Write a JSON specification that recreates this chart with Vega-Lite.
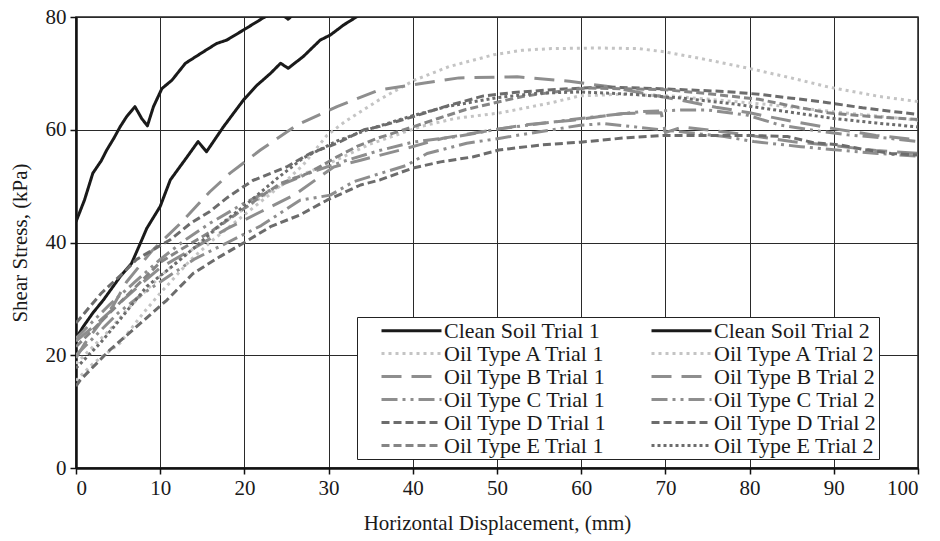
{
  "$schema": "https://vega.github.io/schema/vega-lite/v6.json",
  "width": 842,
  "height": 451,
  "autosize": "none",
  "padding": {"left": 76, "top": 17, "right": 22, "bottom": 73},
  "background": "white",
  "config": {
    "font": "Liberation Serif",
    "view": {"stroke": "#222", "strokeWidth": 1.5},
    "style": {"guide-label": {"font": "Liberation Serif", "fontSize": 21, "fill": "#1a1a1a"}, "guide-title": {"font": "Liberation Serif", "fontSize": 21, "fontWeight": "normal", "fill": "#1a1a1a"}},
    "axis": {
      "grid": true, "gridColor": "#2a2a2a", "gridWidth": 1, "gridOpacity": 1,
      "domainColor": "#111", "domainWidth": 2.5, "tickColor": "#111", "tickSize": 6, "tickWidth": 1.5
    }
  },
  "data": {"values": [
    {"s":"Clean Soil Trial 1","x":0,"y":43.7},{"s":"Clean Soil Trial 1","x":1,"y":47.5},{"s":"Clean Soil Trial 1","x":2,"y":52.3},{"s":"Clean Soil Trial 1","x":3,"y":54.5},{"s":"Clean Soil Trial 1","x":3.65,"y":56.4},{"s":"Clean Soil Trial 1","x":4.5,"y":58.5},{"s":"Clean Soil Trial 1","x":5.23,"y":60.5},{"s":"Clean Soil Trial 1","x":6,"y":62.3},{"s":"Clean Soil Trial 1","x":7,"y":64.1},{"s":"Clean Soil Trial 1","x":7.8,"y":62},{"s":"Clean Soil Trial 1","x":8.48,"y":60.7},{"s":"Clean Soil Trial 1","x":9.2,"y":64.1},{"s":"Clean Soil Trial 1","x":10.2,"y":67.3},{"s":"Clean Soil Trial 1","x":11.4,"y":68.8},{"s":"Clean Soil Trial 1","x":13,"y":71.8},{"s":"Clean Soil Trial 1","x":15.1,"y":73.8},{"s":"Clean Soil Trial 1","x":16.7,"y":75.3},{"s":"Clean Soil Trial 1","x":17.9,"y":75.9},{"s":"Clean Soil Trial 1","x":19.9,"y":77.7},{"s":"Clean Soil Trial 1","x":22.3,"y":79.9},{"s":"Clean Soil Trial 1","x":24,"y":81},{"s":"Clean Soil Trial 1","x":25.2,"y":79.6},{"s":"Clean Soil Trial 1","x":26.5,"y":81.5},{"s":"Clean Soil Trial 1","x":30,"y":85},
    {"s":"Clean Soil Trial 2","x":0,"y":23},{"s":"Clean Soil Trial 2","x":0.87,"y":25.1},{"s":"Clean Soil Trial 2","x":2,"y":27.5},{"s":"Clean Soil Trial 2","x":3.25,"y":29.8},{"s":"Clean Soil Trial 2","x":5.23,"y":33.9},{"s":"Clean Soil Trial 2","x":6.6,"y":36.3},{"s":"Clean Soil Trial 2","x":7.8,"y":40.4},{"s":"Clean Soil Trial 2","x":8.4,"y":42.5},{"s":"Clean Soil Trial 2","x":10,"y":46.4},{"s":"Clean Soil Trial 2","x":11.2,"y":51.1},{"s":"Clean Soil Trial 2","x":13.2,"y":55.2},{"s":"Clean Soil Trial 2","x":14.5,"y":57.9},{"s":"Clean Soil Trial 2","x":15.5,"y":56.1},{"s":"Clean Soil Trial 2","x":17.5,"y":60.5},{"s":"Clean Soil Trial 2","x":19.9,"y":65.3},{"s":"Clean Soil Trial 2","x":21.5,"y":67.9},{"s":"Clean Soil Trial 2","x":23.1,"y":70},{"s":"Clean Soil Trial 2","x":24.3,"y":71.8},{"s":"Clean Soil Trial 2","x":25.2,"y":70.9},{"s":"Clean Soil Trial 2","x":27,"y":73},{"s":"Clean Soil Trial 2","x":29,"y":75.9},{"s":"Clean Soil Trial 2","x":30.2,"y":76.8},{"s":"Clean Soil Trial 2","x":31.8,"y":78.6},{"s":"Clean Soil Trial 2","x":33.4,"y":80.1},{"s":"Clean Soil Trial 2","x":36,"y":83},
    {"s":"Oil Type A Trial 1","x":0,"y":15.5},{"s":"Oil Type A Trial 1","x":2,"y":18.5},{"s":"Oil Type A Trial 1","x":5.2,"y":22.1},{"s":"Oil Type A Trial 1","x":8,"y":27.5},{"s":"Oil Type A Trial 1","x":10,"y":31},{"s":"Oil Type A Trial 1","x":13.6,"y":36.9},{"s":"Oil Type A Trial 1","x":16.3,"y":40.5},{"s":"Oil Type A Trial 1","x":19.9,"y":44.8},{"s":"Oil Type A Trial 1","x":23,"y":48.5},{"s":"Oil Type A Trial 1","x":25,"y":51},{"s":"Oil Type A Trial 1","x":27,"y":53.8},{"s":"Oil Type A Trial 1","x":29.8,"y":59},{"s":"Oil Type A Trial 1","x":32,"y":61.5},{"s":"Oil Type A Trial 1","x":34.1,"y":63.5},{"s":"Oil Type A Trial 1","x":36.1,"y":65.4},{"s":"Oil Type A Trial 1","x":40.2,"y":68.8},{"s":"Oil Type A Trial 1","x":44.3,"y":71.2},{"s":"Oil Type A Trial 1","x":49.6,"y":73.3},{"s":"Oil Type A Trial 1","x":53,"y":74.1},{"s":"Oil Type A Trial 1","x":56.5,"y":74.4},{"s":"Oil Type A Trial 1","x":62,"y":74.5},{"s":"Oil Type A Trial 1","x":66.8,"y":74.4},{"s":"Oil Type A Trial 1","x":70,"y":73.8},{"s":"Oil Type A Trial 1","x":75,"y":72.4},{"s":"Oil Type A Trial 1","x":79.9,"y":70.9},{"s":"Oil Type A Trial 1","x":85.2,"y":69.1},{"s":"Oil Type A Trial 1","x":89.3,"y":67.6},{"s":"Oil Type A Trial 1","x":95.4,"y":65.9},{"s":"Oil Type A Trial 1","x":100,"y":65},
    {"s":"Oil Type A Trial 2","x":0,"y":18.5},{"s":"Oil Type A Trial 2","x":2,"y":21.5},{"s":"Oil Type A Trial 2","x":4,"y":24.5},{"s":"Oil Type A Trial 2","x":6,"y":28},{"s":"Oil Type A Trial 2","x":8,"y":31},{"s":"Oil Type A Trial 2","x":10,"y":34},{"s":"Oil Type A Trial 2","x":12,"y":36.5},{"s":"Oil Type A Trial 2","x":14,"y":39},{"s":"Oil Type A Trial 2","x":16,"y":41.5},{"s":"Oil Type A Trial 2","x":18,"y":44},{"s":"Oil Type A Trial 2","x":20,"y":46},{"s":"Oil Type A Trial 2","x":23,"y":49},{"s":"Oil Type A Trial 2","x":26,"y":51.5},{"s":"Oil Type A Trial 2","x":30,"y":54},{"s":"Oil Type A Trial 2","x":35,"y":57.5},{"s":"Oil Type A Trial 2","x":41,"y":60.6},{"s":"Oil Type A Trial 2","x":45,"y":62},{"s":"Oil Type A Trial 2","x":50.4,"y":63},{"s":"Oil Type A Trial 2","x":56.5,"y":64.8},{"s":"Oil Type A Trial 2","x":59.8,"y":66},{"s":"Oil Type A Trial 2","x":64.7,"y":66.3},{"s":"Oil Type A Trial 2","x":70.5,"y":66},{"s":"Oil Type A Trial 2","x":76,"y":65.3},{"s":"Oil Type A Trial 2","x":82,"y":64.5},{"s":"Oil Type A Trial 2","x":90,"y":63.2},{"s":"Oil Type A Trial 2","x":100,"y":61.7},
    {"s":"Oil Type B Trial 1","x":0,"y":19.5},{"s":"Oil Type B Trial 1","x":1,"y":22},{"s":"Oil Type B Trial 1","x":2.5,"y":25},{"s":"Oil Type B Trial 1","x":4.5,"y":29},{"s":"Oil Type B Trial 1","x":6,"y":33},{"s":"Oil Type B Trial 1","x":9,"y":38.5},{"s":"Oil Type B Trial 1","x":12.4,"y":43.4},{"s":"Oil Type B Trial 1","x":15.9,"y":49},{"s":"Oil Type B Trial 1","x":18.3,"y":52.3},{"s":"Oil Type B Trial 1","x":21.9,"y":56.4},{"s":"Oil Type B Trial 1","x":26.2,"y":60.8},{"s":"Oil Type B Trial 1","x":31,"y":64.1},{"s":"Oil Type B Trial 1","x":33,"y":65.3},{"s":"Oil Type B Trial 1","x":36.1,"y":67.1},{"s":"Oil Type B Trial 1","x":41.4,"y":68.3},{"s":"Oil Type B Trial 1","x":45.5,"y":69.2},{"s":"Oil Type B Trial 1","x":52.4,"y":69.4},{"s":"Oil Type B Trial 1","x":58.6,"y":68.6},{"s":"Oil Type B Trial 1","x":63,"y":67.7},{"s":"Oil Type B Trial 1","x":68,"y":66.3},{"s":"Oil Type B Trial 1","x":72,"y":65.2},{"s":"Oil Type B Trial 1","x":76,"y":64},{"s":"Oil Type B Trial 1","x":80,"y":63},{"s":"Oil Type B Trial 1","x":85,"y":61.5},{"s":"Oil Type B Trial 1","x":90,"y":60.2},{"s":"Oil Type B Trial 1","x":95,"y":59},{"s":"Oil Type B Trial 1","x":100,"y":58.2},
    {"s":"Oil Type B Trial 2","x":0,"y":22.5},{"s":"Oil Type B Trial 2","x":2,"y":25},{"s":"Oil Type B Trial 2","x":5,"y":29},{"s":"Oil Type B Trial 2","x":8,"y":33},{"s":"Oil Type B Trial 2","x":10,"y":35.5},{"s":"Oil Type B Trial 2","x":14,"y":39},{"s":"Oil Type B Trial 2","x":18,"y":42.5},{"s":"Oil Type B Trial 2","x":22,"y":45.5},{"s":"Oil Type B Trial 2","x":26,"y":48.5},{"s":"Oil Type B Trial 2","x":30.6,"y":53.4},{"s":"Oil Type B Trial 2","x":33.8,"y":54.6},{"s":"Oil Type B Trial 2","x":38.5,"y":56.4},{"s":"Oil Type B Trial 2","x":43.6,"y":58.5},{"s":"Oil Type B Trial 2","x":48.4,"y":59.7},{"s":"Oil Type B Trial 2","x":53,"y":60.8},{"s":"Oil Type B Trial 2","x":59,"y":61.7},{"s":"Oil Type B Trial 2","x":65,"y":62.9},{"s":"Oil Type B Trial 2","x":69.5,"y":63},{"s":"Oil Type B Trial 2","x":70,"y":59.5},{"s":"Oil Type B Trial 2","x":72,"y":60.5},{"s":"Oil Type B Trial 2","x":76,"y":59.8},{"s":"Oil Type B Trial 2","x":80,"y":59},{"s":"Oil Type B Trial 2","x":85,"y":57.9},{"s":"Oil Type B Trial 2","x":90,"y":57.2},{"s":"Oil Type B Trial 2","x":95,"y":56.3},{"s":"Oil Type B Trial 2","x":100,"y":55.8},
    {"s":"Oil Type C Trial 1","x":0,"y":23},{"s":"Oil Type C Trial 1","x":2,"y":26},{"s":"Oil Type C Trial 1","x":4,"y":29},{"s":"Oil Type C Trial 1","x":7,"y":33},{"s":"Oil Type C Trial 1","x":10,"y":37},{"s":"Oil Type C Trial 1","x":13,"y":40.5},{"s":"Oil Type C Trial 1","x":16,"y":43.5},{"s":"Oil Type C Trial 1","x":20,"y":47},{"s":"Oil Type C Trial 1","x":24,"y":50},{"s":"Oil Type C Trial 1","x":28,"y":52.5},{"s":"Oil Type C Trial 1","x":32,"y":54.5},{"s":"Oil Type C Trial 1","x":36,"y":56.3},{"s":"Oil Type C Trial 1","x":40,"y":57.8},{"s":"Oil Type C Trial 1","x":45.3,"y":58.8},{"s":"Oil Type C Trial 1","x":50.4,"y":60.2},{"s":"Oil Type C Trial 1","x":55.2,"y":61.1},{"s":"Oil Type C Trial 1","x":59.9,"y":62},{"s":"Oil Type C Trial 1","x":63.5,"y":62.6},{"s":"Oil Type C Trial 1","x":67,"y":63.2},{"s":"Oil Type C Trial 1","x":72,"y":63.5},{"s":"Oil Type C Trial 1","x":75,"y":63.5},{"s":"Oil Type C Trial 1","x":79.7,"y":62.6},{"s":"Oil Type C Trial 1","x":83.7,"y":60.8},{"s":"Oil Type C Trial 1","x":88.5,"y":59.7},{"s":"Oil Type C Trial 1","x":91.6,"y":59.1},{"s":"Oil Type C Trial 1","x":96.4,"y":58.5},{"s":"Oil Type C Trial 1","x":100,"y":57.9},
    {"s":"Oil Type C Trial 2","x":0,"y":20},{"s":"Oil Type C Trial 2","x":2,"y":23},{"s":"Oil Type C Trial 2","x":5,"y":27.5},{"s":"Oil Type C Trial 2","x":8,"y":31},{"s":"Oil Type C Trial 2","x":10,"y":33},{"s":"Oil Type C Trial 2","x":14,"y":37},{"s":"Oil Type C Trial 2","x":18,"y":40},{"s":"Oil Type C Trial 2","x":22,"y":43},{"s":"Oil Type C Trial 2","x":26.6,"y":47.5},{"s":"Oil Type C Trial 2","x":30.2,"y":48.4},{"s":"Oil Type C Trial 2","x":33,"y":50.8},{"s":"Oil Type C Trial 2","x":39.3,"y":53.7},{"s":"Oil Type C Trial 2","x":41.7,"y":55.8},{"s":"Oil Type C Trial 2","x":46.4,"y":57.6},{"s":"Oil Type C Trial 2","x":50.4,"y":58.5},{"s":"Oil Type C Trial 2","x":54,"y":59.4},{"s":"Oil Type C Trial 2","x":59.9,"y":60.8},{"s":"Oil Type C Trial 2","x":62.7,"y":61.1},{"s":"Oil Type C Trial 2","x":68.3,"y":60.2},{"s":"Oil Type C Trial 2","x":71.4,"y":59.7},{"s":"Oil Type C Trial 2","x":77,"y":58.8},{"s":"Oil Type C Trial 2","x":80.5,"y":57.9},{"s":"Oil Type C Trial 2","x":86.1,"y":57},{"s":"Oil Type C Trial 2","x":89.7,"y":56.5},{"s":"Oil Type C Trial 2","x":95.2,"y":55.8},{"s":"Oil Type C Trial 2","x":100,"y":55.3},
    {"s":"Oil Type D Trial 1","x":0,"y":25.7},{"s":"Oil Type D Trial 1","x":3,"y":31},{"s":"Oil Type D Trial 1","x":5.6,"y":34.6},{"s":"Oil Type D Trial 1","x":7.2,"y":37},{"s":"Oil Type D Trial 1","x":11.2,"y":40.5},{"s":"Oil Type D Trial 1","x":13.6,"y":43.4},{"s":"Oil Type D Trial 1","x":15.9,"y":45.5},{"s":"Oil Type D Trial 1","x":18,"y":48},{"s":"Oil Type D Trial 1","x":21,"y":51},{"s":"Oil Type D Trial 1","x":25,"y":53.4},{"s":"Oil Type D Trial 1","x":27.8,"y":55.8},{"s":"Oil Type D Trial 1","x":31,"y":57.6},{"s":"Oil Type D Trial 1","x":34.2,"y":60},{"s":"Oil Type D Trial 1","x":36.1,"y":60.6},{"s":"Oil Type D Trial 1","x":40.2,"y":62.4},{"s":"Oil Type D Trial 1","x":44,"y":64.2},{"s":"Oil Type D Trial 1","x":48.4,"y":66},{"s":"Oil Type D Trial 1","x":52,"y":66.6},{"s":"Oil Type D Trial 1","x":56.5,"y":67.1},{"s":"Oil Type D Trial 1","x":62.7,"y":67.6},{"s":"Oil Type D Trial 1","x":68.8,"y":67.3},{"s":"Oil Type D Trial 1","x":77,"y":66.8},{"s":"Oil Type D Trial 1","x":81.1,"y":66.3},{"s":"Oil Type D Trial 1","x":85,"y":65.6},{"s":"Oil Type D Trial 1","x":89.3,"y":64.8},{"s":"Oil Type D Trial 1","x":93.4,"y":63.9},{"s":"Oil Type D Trial 1","x":100,"y":62.7},
    {"s":"Oil Type D Trial 2","x":0,"y":14.5},{"s":"Oil Type D Trial 2","x":0.5,"y":15.6},{"s":"Oil Type D Trial 2","x":4,"y":20.9},{"s":"Oil Type D Trial 2","x":7.6,"y":25.6},{"s":"Oil Type D Trial 2","x":10.8,"y":29.8},{"s":"Oil Type D Trial 2","x":13.9,"y":34.5},{"s":"Oil Type D Trial 2","x":17.1,"y":37.5},{"s":"Oil Type D Trial 2","x":20.1,"y":40.1},{"s":"Oil Type D Trial 2","x":23.1,"y":42.8},{"s":"Oil Type D Trial 2","x":26.6,"y":44.9},{"s":"Oil Type D Trial 2","x":29.8,"y":47.5},{"s":"Oil Type D Trial 2","x":33.8,"y":50.2},{"s":"Oil Type D Trial 2","x":36.1,"y":51.1},{"s":"Oil Type D Trial 2","x":40,"y":53.2},{"s":"Oil Type D Trial 2","x":43.3,"y":54.3},{"s":"Oil Type D Trial 2","x":47.2,"y":55.2},{"s":"Oil Type D Trial 2","x":50.2,"y":56.4},{"s":"Oil Type D Trial 2","x":55.2,"y":57.3},{"s":"Oil Type D Trial 2","x":59.9,"y":57.8},{"s":"Oil Type D Trial 2","x":65.5,"y":58.6},{"s":"Oil Type D Trial 2","x":70,"y":59},{"s":"Oil Type D Trial 2","x":75,"y":59},{"s":"Oil Type D Trial 2","x":79.7,"y":59},{"s":"Oil Type D Trial 2","x":84.5,"y":58.8},{"s":"Oil Type D Trial 2","x":87.6,"y":57.7},{"s":"Oil Type D Trial 2","x":90.8,"y":57.3},{"s":"Oil Type D Trial 2","x":93.6,"y":56.5},{"s":"Oil Type D Trial 2","x":96.8,"y":55.8},{"s":"Oil Type D Trial 2","x":100,"y":55.5},
    {"s":"Oil Type E Trial 1","x":0,"y":21.5},{"s":"Oil Type E Trial 1","x":3,"y":26},{"s":"Oil Type E Trial 1","x":6,"y":30.5},{"s":"Oil Type E Trial 1","x":10,"y":36.5},{"s":"Oil Type E Trial 1","x":12.4,"y":38.7},{"s":"Oil Type E Trial 1","x":16.3,"y":42.2},{"s":"Oil Type E Trial 1","x":19,"y":45},{"s":"Oil Type E Trial 1","x":21.9,"y":48.1},{"s":"Oil Type E Trial 1","x":24.3,"y":50.5},{"s":"Oil Type E Trial 1","x":27.6,"y":52.3},{"s":"Oil Type E Trial 1","x":31,"y":55.2},{"s":"Oil Type E Trial 1","x":33.6,"y":57.2},{"s":"Oil Type E Trial 1","x":35.8,"y":58.5},{"s":"Oil Type E Trial 1","x":40.2,"y":60.6},{"s":"Oil Type E Trial 1","x":43,"y":62},{"s":"Oil Type E Trial 1","x":46.3,"y":63.6},{"s":"Oil Type E Trial 1","x":53.3,"y":66},{"s":"Oil Type E Trial 1","x":60.6,"y":67.4},{"s":"Oil Type E Trial 1","x":70,"y":67.1},{"s":"Oil Type E Trial 1","x":75,"y":66.4},{"s":"Oil Type E Trial 1","x":81.1,"y":65.4},{"s":"Oil Type E Trial 1","x":85,"y":64.2},{"s":"Oil Type E Trial 1","x":89.3,"y":63},{"s":"Oil Type E Trial 1","x":94,"y":62.4},{"s":"Oil Type E Trial 1","x":100,"y":61.8},
    {"s":"Oil Type E Trial 2","x":0,"y":17.7},{"s":"Oil Type E Trial 2","x":2.85,"y":22.1},{"s":"Oil Type E Trial 2","x":5.2,"y":26.3},{"s":"Oil Type E Trial 2","x":8.4,"y":32.2},{"s":"Oil Type E Trial 2","x":11.2,"y":35.5},{"s":"Oil Type E Trial 2","x":14,"y":39},{"s":"Oil Type E Trial 2","x":17,"y":43},{"s":"Oil Type E Trial 2","x":20,"y":46.5},{"s":"Oil Type E Trial 2","x":24,"y":51.5},{"s":"Oil Type E Trial 2","x":27,"y":55},{"s":"Oil Type E Trial 2","x":31,"y":58},{"s":"Oil Type E Trial 2","x":35,"y":60.2},{"s":"Oil Type E Trial 2","x":40,"y":62.5},{"s":"Oil Type E Trial 2","x":44,"y":64.1},{"s":"Oil Type E Trial 2","x":50,"y":65.7},{"s":"Oil Type E Trial 2","x":55,"y":66.5},{"s":"Oil Type E Trial 2","x":60,"y":66.7},{"s":"Oil Type E Trial 2","x":66,"y":66.3},{"s":"Oil Type E Trial 2","x":72,"y":65.6},{"s":"Oil Type E Trial 2","x":78,"y":64.6},{"s":"Oil Type E Trial 2","x":84,"y":63.3},{"s":"Oil Type E Trial 2","x":90,"y":62},{"s":"Oil Type E Trial 2","x":95,"y":61.2},{"s":"Oil Type E Trial 2","x":100,"y":60.5}
  ]},
  "mark": {"type": "line", "clip": true, "strokeWidth": 3, "strokeCap": "butt", "strokeJoin": "round"},
  "encoding": {
    "x": {"field": "x", "type": "quantitative",
      "scale": {"domain": [0, 100], "nice": false, "zero": false},
      "axis": {"values": [0,10,20,30,40,50,60,70,80,90,100], "title": "Horizontal Displacement, (mm)",
        "labelFont": "Liberation Serif", "labelFontSize": 21, "labelColor": "#1a1a1a", "labelPadding": 3,
        "titleFont": "Liberation Serif", "titleFontSize": 21, "titleFontWeight": "normal", "titleColor": "#1a1a1a", "titlePadding": 14}},
    "y": {"field": "y", "type": "quantitative",
      "scale": {"domain": [0, 80], "nice": false},
      "axis": {"values": [0,20,40,60,80], "title": "Shear Stress, (kPa)",
        "labelFont": "Liberation Serif", "labelFontSize": 21, "labelColor": "#1a1a1a", "labelPadding": 4,
        "titleFont": "Liberation Serif", "titleFontSize": 21, "titleFontWeight": "normal", "titleColor": "#1a1a1a", "titlePadding": 15}},
    "order": {"field": "x", "type": "quantitative"},
    "color": {"field": "s", "type": "nominal",
      "scale": {
        "domain": ["Clean Soil Trial 1","Clean Soil Trial 2","Oil Type A Trial 1","Oil Type A Trial 2","Oil Type B Trial 1","Oil Type B Trial 2","Oil Type C Trial 1","Oil Type C Trial 2","Oil Type D Trial 1","Oil Type D Trial 2","Oil Type E Trial 1","Oil Type E Trial 2"],
        "range": ["#1a1a1a","#1a1a1a","#c4c4c4","#c4c4c4","#8e8e8e","#8e8e8e","#8e8e8e","#8e8e8e","#6c6c6c","#6c6c6c","#858585","#6c6c6c"]},
      "legend": {
        "title": null, "orient": "none", "legendX": 281, "legendY": 300,
        "columns": 2, "direction": "horizontal", "columnPadding": 22, "rowPadding": 0,
        "symbolType": "M-3,0H3", "symbolSize": 400, "symbolStrokeWidth": 3, "symbolOffset": 41,
        "labelFont": "Liberation Serif", "labelFontSize": 22, "labelColor": "#1a1a1a", "labelOffset": 21, "labelLimit": 300,
        "labelExpr": "indexof(datum.label, 'Trial 2') >= 0 ? datum.label + '\u00a0\u00a0\u00a0\u00a0' : datum.label",
        "padding": 2, "strokeColor": "#222", "fillColor": "white", "cornerRadius": 0
      }},
    "strokeDash": {"field": "s", "type": "nominal",
      "scale": {
        "domain": ["Clean Soil Trial 1","Clean Soil Trial 2","Oil Type A Trial 1","Oil Type A Trial 2","Oil Type B Trial 1","Oil Type B Trial 2","Oil Type C Trial 1","Oil Type C Trial 2","Oil Type D Trial 1","Oil Type D Trial 2","Oil Type E Trial 1","Oil Type E Trial 2"],
        "range": [[1,0],[1,0],[3,4],[3,4],[20,10],[20,10],[16,5,3,5,3,5],[16,5,3,5,3,5],[8,4],[8,4],[8,4],[3,3]]},
      "legend": null}
  }
}
